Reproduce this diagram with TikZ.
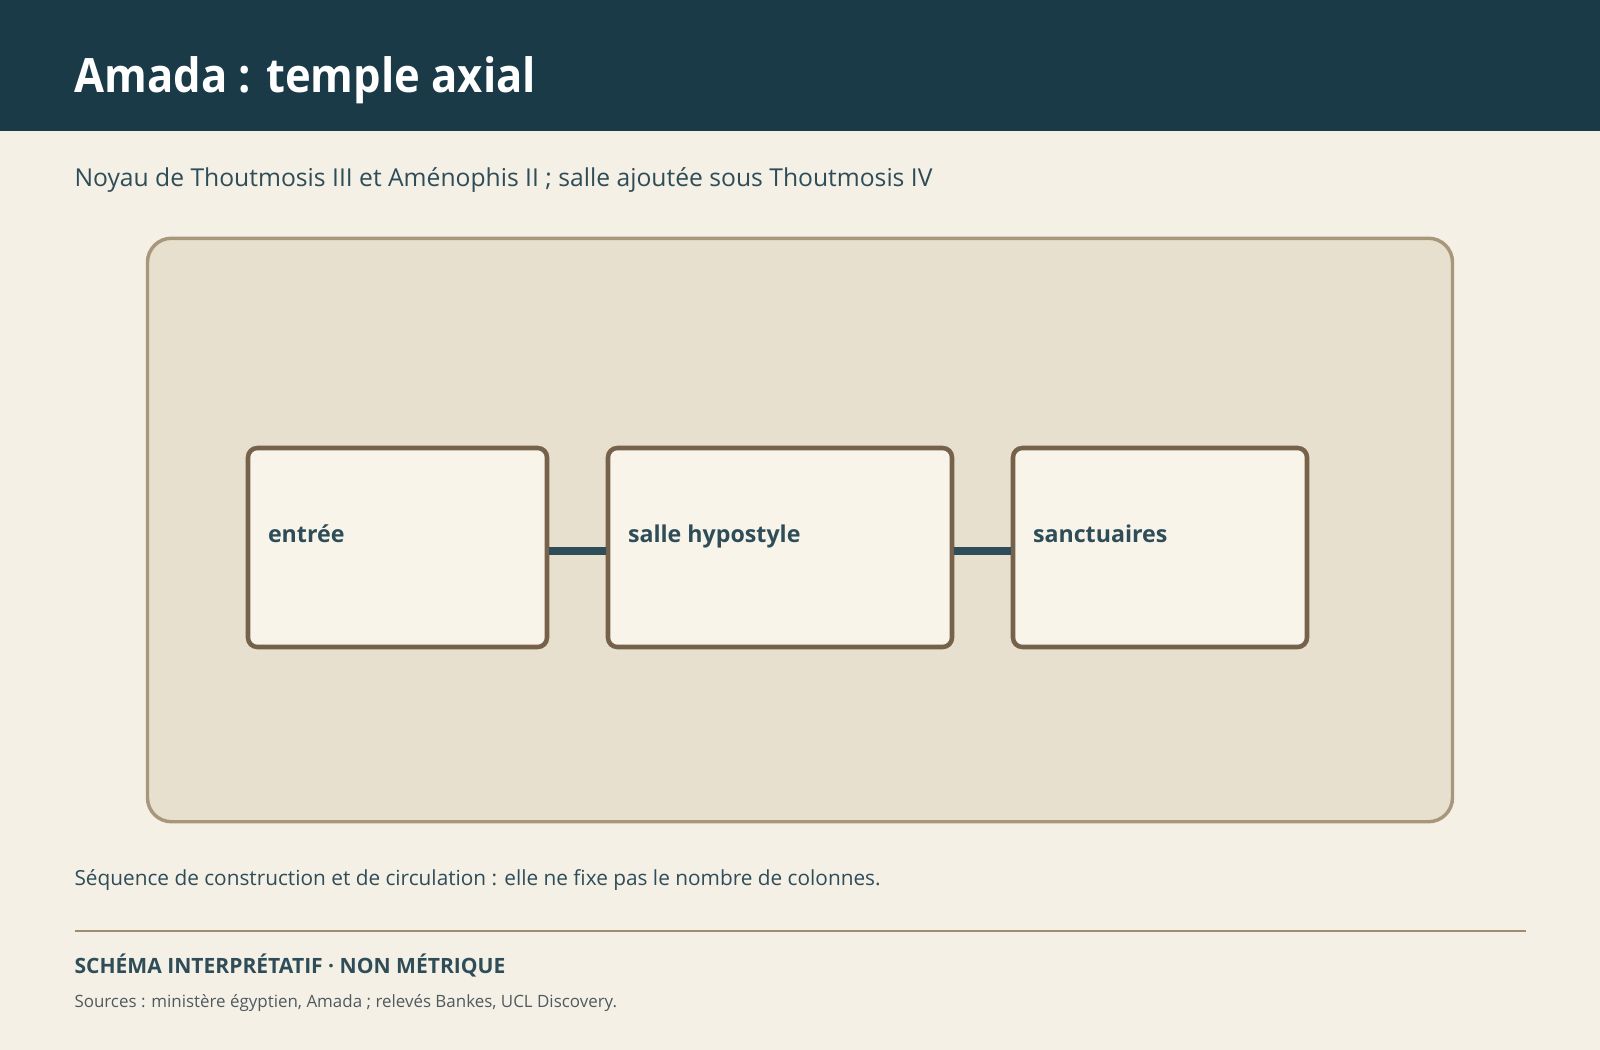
\documentclass[tikz,border=0pt]{standalone}
\usepackage{fontspec}
\setmainfont{Open Sans}
\newfontfamily\titlefont[FakeStretch=0.92]{Open Sans}
\definecolor{hdr}{HTML}{1A3A48}
\definecolor{bg}{HTML}{F4F0E6}
\definecolor{panelfill}{HTML}{E8E0CF}
\definecolor{panelline}{HTML}{A8977A}
\definecolor{boxfill}{HTML}{F8F4EA}
\definecolor{boxline}{HTML}{76624A}
\definecolor{ink}{HTML}{2E4D58}
\definecolor{muted}{HTML}{505A5E}
\definecolor{rulecol}{HTML}{A08C70}
\tikzset{
  txt/.style={anchor=base west, inner sep=0pt, outer sep=0pt},
  room/.style={draw=boxline, fill=boxfill, line width=3.4pt, rounded corners=7pt, minimum height=149.25pt, inner sep=0pt},
  roomlabel/.style={txt, text=ink, font=\fontsize{17.4}{21}\selectfont\bfseries},
  conn/.style={draw=ink, line width=6pt},
}
\begin{document}
\begin{tikzpicture}[x=0.75pt, y=-0.75pt]
\useasboundingbox (0,0) rectangle (1600,1050);
\fill[bg] (0,0) rectangle (1600,1050);
\fill[hdr] (0,0) rectangle (1600,131);
\node[txt, text=white, font=\titlefont\fontsize{35.5}{40}\selectfont\bfseries] (title) at (74.5,92) {Amada : temple axial};
\node[txt, text=ink, font=\fontsize{18.5}{22}\selectfont] (subtitle) at (74.5,186) {Noyau de Thoutmosis III et Aménophis II ; salle ajoutée sous Thoutmosis IV};
\node[draw=panelline, fill=panelfill, line width=2.6pt, rounded corners=18pt, minimum width=978.75pt, minimum height=437.6pt, inner sep=0pt] (panel) at (800,530) {};
\node[room, minimum width=224.25pt] (entree) at (397.5,547.5) {};
\node[room, minimum width=258pt] (salle) at (780,547.5) {};
\node[room, minimum width=220.5pt] (sanct) at (1160,547.5) {};
\node[roomlabel] (lentree) at (268,542) {entrée};
\node[roomlabel] (lsalle) at (628,542) {salle hypostyle};
\node[roomlabel] (lsanct) at (1033,542) {sanctuaires};
\draw[conn] ([yshift=-2.6pt]entree.east) -- ([yshift=-2.6pt]salle.west);
\draw[conn] ([yshift=-2.6pt]salle.east) -- ([yshift=-2.6pt]sanct.west);
\node[txt, text=ink, font=\fontsize{15.6}{19}\selectfont] (caption) at (74.5,885) {Séquence de construction et de circulation : elle ne fixe pas le nombre de colonnes.};
\coordinate (r1) at (74.5,931);
\coordinate (r2) at (1526,931);
\draw[rulecol, line width=1.5pt] (r1) -- (r2);
\node[txt, text=ink, font=\fontsize{15.8}{19}\selectfont\bfseries] (note) at (74.5,973.5) {SCHÉMA INTERPRÉTATIF · NON MÉTRIQUE};
\node[txt, text=muted, font=\fontsize{12.7}{16}\selectfont] (sources) at (74.5,1007) {Sources : ministère égyptien, Amada ; relevés Bankes, UCL Discovery.};
\end{tikzpicture}
\end{document}
